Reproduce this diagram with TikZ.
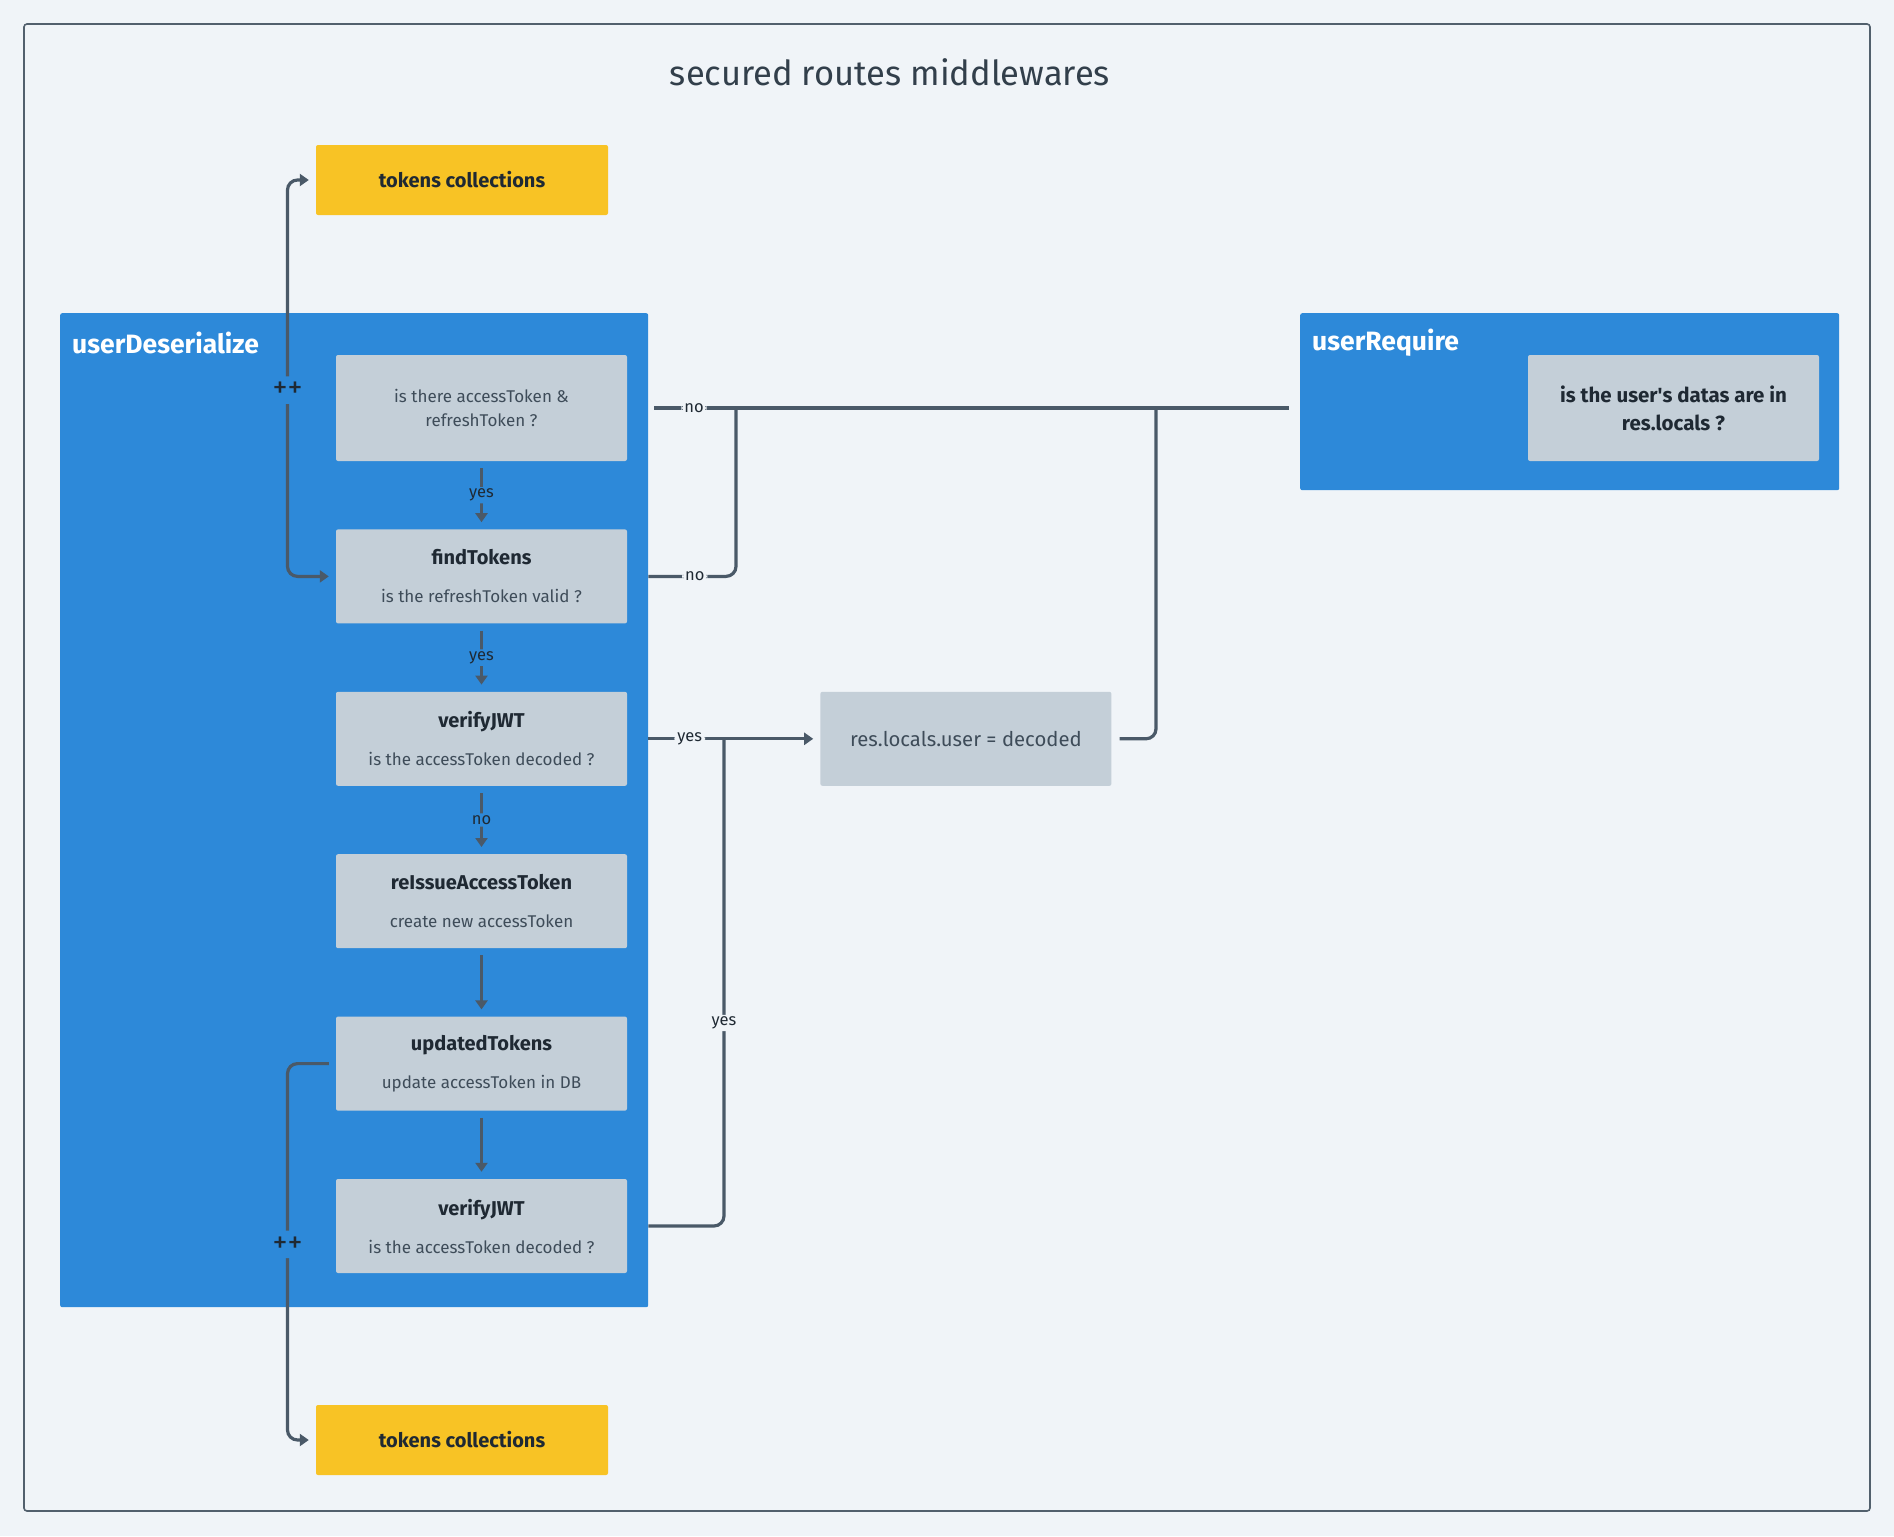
\documentclass[tikz,border=0pt]{standalone}
\usepackage{fontspec}
\setmainfont{Fira Sans}
\usepackage{tikz}
\usetikzlibrary{arrows.meta,positioning,calc}

\definecolor{pagebg}{HTML}{F0F4F8}
\definecolor{framegray}{HTML}{52606D}
\definecolor{laneblue}{HTML}{2D89D9}
\definecolor{boxgray}{HTML}{C4CFD8}
\definecolor{storeyellow}{HTML}{F8C325}
\definecolor{linegray}{HTML}{4A5968}
\definecolor{darktext}{HTML}{1F2933}
\definecolor{subtext}{HTML}{3E4C59}
\definecolor{titletext}{HTML}{323F4B}

\newcommand{\boxhead}[1]{{\color{darktext}\fontsize{20}{24}\selectfont\bfseries #1}}

\begin{document}
\begin{tikzpicture}[x=1pt,y=-1pt,node distance=68pt,
  lane/.style={rectangle,fill=laneblue,rounded corners=2pt,anchor=north west,inner sep=0pt},
  lanetitle/.style={anchor=west,text=white,font=\fontsize{26.5}{30}\selectfont\bfseries,inner sep=0pt},
  qbox/.style={rectangle,fill=boxgray,rounded corners=2pt,minimum width=291pt,minimum height=94pt,
               align=center,text=subtext,font=\fontsize{17}{24}\selectfont,inner sep=4pt},
  store/.style={rectangle,fill=storeyellow,rounded corners=2pt,minimum width=292pt,minimum height=70pt,
                text=darktext,font=\fontsize{20}{24}\selectfont\bfseries},
  conn/.style={draw=linegray,line width=3.2pt,rounded corners=10pt},
  arr/.style={conn,-{Triangle[length=9pt,width=12pt]}},
  both/.style={conn,{Triangle[length=9pt,width=12pt]}-{Triangle[length=9pt,width=12pt]}},
  lbl/.style={fill=pagebg,text=darktext,inner xsep=3pt,inner ysep=2pt,font=\fontsize{16.5}{18}\selectfont},
  lblin/.style={lbl,fill=laneblue},
  plus/.style={lblin,inner ysep=6pt,font=\fontsize{30}{30}\selectfont}]
\useasboundingbox (0,0) rectangle (1894,1536);
\fill[pagebg] (0,0) rectangle (1894,1536);
\draw[framegray,line width=1.6pt,rounded corners=3pt] (24,24) rectangle (1870,1511);

\node[font=\fontsize{34.5}{40}\selectfont,text=titletext] (title) at (890,72) {secured routes middlewares};

% middleware lanes
\node[lane,minimum width=588pt,minimum height=994pt] (deser) at (60,313) {};
\node[lanetitle] (desertitle) at (72,343) {userDeserialize};
\node[lane,minimum width=539pt,minimum height=177pt] (req) at (1300,313) {};
\node[lanetitle] (reqtitle) at (1312,343) {userRequire};

% steps of userDeserialize
\node[qbox,minimum height=106pt] (ask) at (481.5,408) {is there accessToken \&\\refreshToken ?};
\node[qbox,below=of ask] (fnd) {\boxhead{findTokens}\\[14pt]is the refreshToken valid ?};
\node[qbox,below=of fnd] (vj1) {\boxhead{verifyJWT}\\[14pt]is the accessToken decoded ?};
\node[qbox,below=of vj1] (rei) {\boxhead{reIssueAccessToken}\\[14pt]create new accessToken};
\node[qbox,below=of rei] (upd) {\boxhead{updatedTokens}\\[14pt]update accessToken in DB};
\node[qbox,below=of upd] (vj2) {\boxhead{verifyJWT}\\[14pt]is the accessToken decoded ?};

\node[qbox,right=193pt of vj1,font=\fontsize{20.3}{24}\selectfont] (res) {res.locals.user = decoded};
\node[qbox,minimum height=106pt,text=darktext,font=\fontsize{20.5}{28}\selectfont\bfseries] (reqq) at (1673.5,408)
  {is the user\textquotesingle s datas are in\\res.locals ?};

% token stores
\node[store] (tok1) at (462,180) {tokens collections};
\node[store] (tok2) at (462,1440) {tokens collections};

% junctions
\coordinate (lx) at (287.5,0);
\coordinate (jfnd) at (736,408);
\coordinate (jres) at (1156,408);
\coordinate (jvj) at (724,738);

% left loops to the token stores
\draw[both,shorten <=7pt,shorten >=7pt] (tok1.west) -- (tok1.west -| lx)
  -- node[plus,pos=0.53]{++} (fnd.west -| lx) -- (fnd.west);
\draw[arr,shorten <=7pt,shorten >=7pt] (upd.west) -- (upd.west -| lx)
  -- node[plus,pos=0.48]{++} (tok2.west -| lx) -- (tok2.west);

% vertical flow
\draw[arr,shorten <=7pt,shorten >=7pt] (ask) -- node[lblin]{yes} (fnd);
\draw[arr,shorten <=7pt,shorten >=7pt] (fnd) -- node[lblin]{yes} (vj1);
\draw[arr,shorten <=7pt,shorten >=7pt] (vj1) -- node[lblin]{no} (rei);
\draw[arr,shorten <=7pt,shorten >=7pt] (rei) -- (upd);
\draw[arr,shorten <=7pt,shorten >=7pt] (upd) -- (vj2);

% branches to userRequire and res.locals
\draw[conn,shorten <=6pt,shorten >=11pt] (ask -| deser.east) -- node[lbl,pos=0.07]{no} (ask -| req.west);
\draw[conn] (fnd -| deser.east) -- node[lbl,pos=0.53]{no} (fnd -| jfnd) -- (jfnd);
\draw[conn,shorten <=8pt] (res.east) -| (jres);
\draw[arr,shorten >=7pt] (vj1 -| deser.east) -- node[lbl,pos=0.24]{yes} (res.west);
\draw[conn] (vj2 -| deser.east) -- (vj2 -| jvj) -- node[lbl,pos=0.416]{yes} (jvj);
\end{tikzpicture}
\end{document}
